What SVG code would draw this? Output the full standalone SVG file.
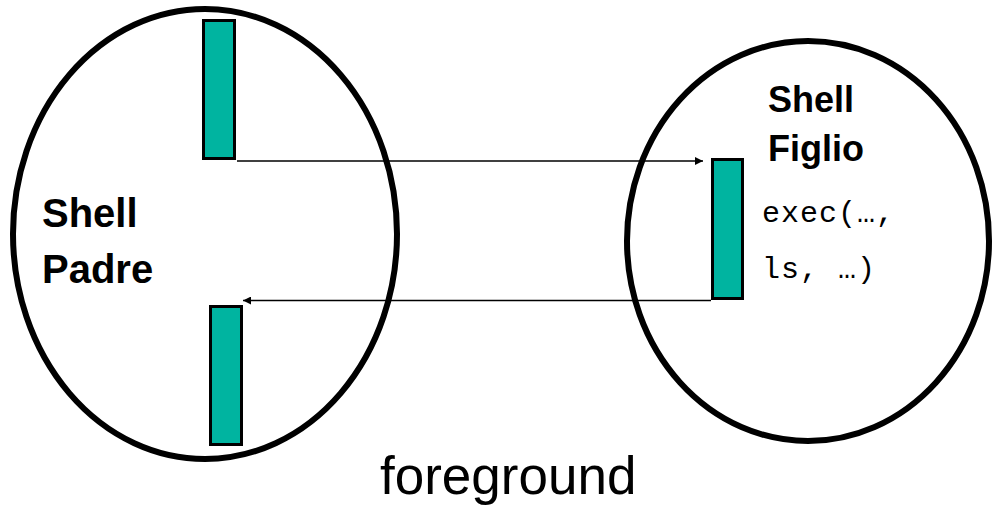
<svg xmlns="http://www.w3.org/2000/svg" width="992" height="505" viewBox="0 0 992 505">
<style>
.ell{fill:none;stroke:#000;stroke-width:6}
.bar{fill:#00B4A0;stroke:#000;stroke-width:3}
.lbl{font-family:"Liberation Sans",Arial,sans-serif;font-weight:bold;fill:#000}
.code{font-family:"Liberation Mono","Courier New",monospace;font-size:30px;fill:#000;letter-spacing:1px}
.con{fill:none;stroke:#000;stroke-width:1.5}
</style>
<defs>
<marker id="ah" viewBox="0 0 10 10" refX="10" refY="5" markerWidth="10" markerHeight="8" markerUnits="userSpaceOnUse" orient="auto">
<path d="M0,0 L10,5 L0,10 z" fill="#000"/>
</marker>
</defs>
<rect width="992" height="505" fill="#fff"/>
<g id="padre">
<ellipse class="ell" cx="205" cy="234" rx="192" ry="225"/>
<text class="lbl" x="42" y="227" font-size="40">Shell</text>
<text class="lbl" x="42" y="283" font-size="40">Padre</text>
</g>
<g id="bar-top"><rect class="bar" x="203.5" y="20.5" width="31" height="138"/></g>
<g id="bar-bottom"><rect class="bar" x="210.5" y="306.5" width="31" height="138"/></g>
<g id="figlio">
<ellipse class="ell" cx="808" cy="241" rx="181" ry="200"/>
<text class="lbl" x="768" y="112" font-size="36">Shell</text>
<text class="lbl" x="768" y="161" font-size="36">Figlio</text>
<text class="code" x="762" y="222">exec(…,</text>
<text class="code" x="762" y="278">ls, …)</text>
</g>
<g id="bar-figlio"><rect class="bar" x="712.5" y="159.5" width="30" height="139"/></g>
<g id="connectors">
<line class="con" x1="237" y1="161" x2="703" y2="161" marker-end="url(#ah)"/>
<line class="con" x1="711" y1="300.5" x2="243" y2="300.5" marker-end="url(#ah)"/>
</g>
<text x="380" y="494" font-family="Liberation Sans,Arial,sans-serif" font-size="53" fill="#000">foreground</text>
</svg>
